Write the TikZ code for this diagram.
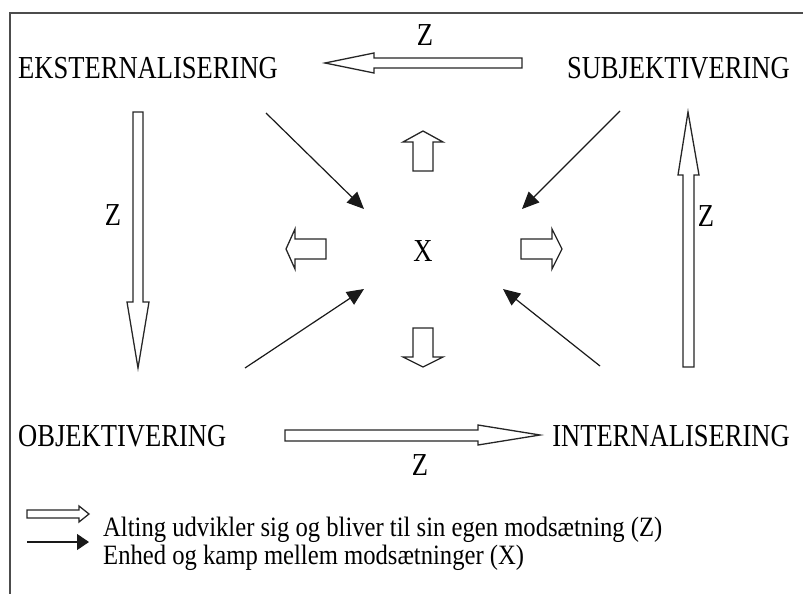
\documentclass[tikz,border=0pt]{standalone}
\usepackage{fontspec}
\setmainfont{Liberation Serif}
\usepackage{graphicx}
\usetikzlibrary{arrows.meta}
\tikzset{
  lbl/.style={inner sep=0pt, font=\fontsize{32}{38}\selectfont},
  leg/.style={inner sep=0pt, font=\fontsize{28}{34}\selectfont, anchor=base west},
  blockarrow/.style={draw=black!85, line width=1.3pt, fill=white, line join=miter},
  blackarrow/.style={draw=black!90, line width=1.2pt, -{Triangle[length=17pt,width=15pt]}},
  frameline/.style={draw=black!70, line width=1.4pt}
}
\newcommand{\sq}[1]{\scalebox{0.83}[1]{#1}}
\newcommand{\sqleg}[1]{\scalebox{0.88}[1]{#1}}
\begin{document}
\begin{tikzpicture}[x=1pt,y=-1pt]
\useasboundingbox (0,0) rectangle (803,594);
% frame
\draw[frameline] (10,594) -- (10,13) -- (803,13);

% labels
\node[lbl, anchor=base west] (ekst) at (18,78) {\sq{EKSTERNALISERING}};
\node[lbl, anchor=base east] (subj) at (790,78) {\sq{SUBJEKTIVERING}};
\node[lbl, anchor=base west] (obj) at (18,446) {\sq{OBJEKTIVERING}};
\node[lbl, anchor=base east] (intern) at (790,446) {\sq{INTERNALISERING}};
\node[lbl] (x) at (423,251) {\sq{X}};
\node[lbl] (ztop) at (425,35) {\sq{Z}};
\node[lbl] (zleft) at (113,215) {\sq{Z}};
\node[lbl] (zright) at (706,216) {\sq{Z}};
\node[lbl] (zbot) at (420,465) {\sq{Z}};

% big open arrows
\draw[blockarrow] (522,58) -- (374,58) -- (374,53) -- (325,63) -- (374,73) -- (374,68) -- (522,68) -- cycle;
\draw[blockarrow] (133,112) -- (143,112) -- (143,302) -- (149,302) -- (138,368) -- (127,302) -- (133,302) -- cycle;
\draw[blockarrow] (683,367) -- (694,367) -- (694,175) -- (699,175) -- (688,112) -- (678,175) -- (683,175) -- cycle;
\draw[blockarrow] (285,430) -- (478,430) -- (478,425) -- (540,435) -- (478,445) -- (478,441) -- (285,441) -- cycle;

% small open arrows around X
\draw[blockarrow] (413,171) -- (433,171) -- (433,142) -- (443,142) -- (423,131) -- (403,142) -- (413,142) -- cycle;
\draw[blockarrow] (413,328) -- (433,328) -- (433,357) -- (443,357) -- (423,367) -- (403,357) -- (413,357) -- cycle;
\draw[blockarrow] (326,239) -- (326,259) -- (295,259) -- (295,269) -- (286,249) -- (295,229) -- (295,239) -- cycle;
\draw[blockarrow] (521,239) -- (521,259) -- (552,259) -- (552,269) -- (562,249) -- (552,229) -- (552,239) -- cycle;

% black arrows
\coordinate (tls) at (266,113); \coordinate (tle) at (364,209);
\coordinate (trs) at (620,111); \coordinate (tre) at (522,209);
\coordinate (bls) at (245,368); \coordinate (ble) at (364,289);
\coordinate (brs) at (600,366); \coordinate (bre) at (503,289);
\draw[blackarrow] (tls) -- (tle);
\draw[blackarrow] (trs) -- (tre);
\draw[blackarrow] (bls) -- (ble);
\draw[blackarrow] (brs) -- (bre);

% legend
\draw[blockarrow] (27,510) -- (79,510) -- (79,506) -- (89,514) -- (79,522) -- (79,518) -- (27,518) -- cycle;
\coordinate (lgs) at (27,542); \coordinate (lge) at (89,542);
\draw[draw=black!90, line width=1.2pt, -{Triangle[length=12pt,width=16pt]}] (lgs) -- (lge);
\node[leg] (leg1) at (103,536) {\sqleg{Alting udvikler sig og bliver til sin egen modsætning (Z)}};
\node[leg] (leg2) at (103,564) {\sqleg{Enhed og kamp mellem modsætninger (X)}};
\end{tikzpicture}
\end{document}
